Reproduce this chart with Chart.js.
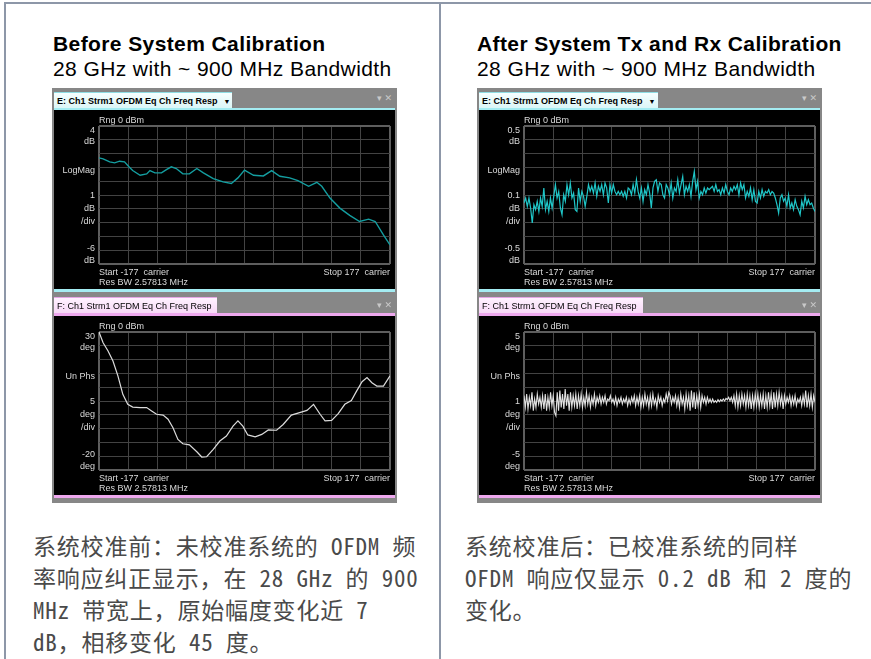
<!DOCTYPE html>
<html>
<head>
<meta charset="utf-8">
<script src="https://cdn.jsdelivr.net/npm/chart.js@4.4.0/dist/chart.umd.min.js"></script>
<style>
  body { margin: 0; width: 871px; height: 659px; background: #fff; position: relative; overflow: hidden; font-family: "Liberation Sans", Arial, sans-serif; }
  .rule { position: absolute; background: #8d97a8; }
  .title { position: absolute; font-size: 21px; letter-spacing: 0.4px; line-height: 25px; color: #000; white-space: nowrap; }
  .win { position: absolute; top: 88px; width: 345px; height: 415px; background: #878787; }
  .tab { position: absolute; left: 2px; height: 17px; line-height: 17px; font-size: 9px; color: #000; padding-left: 3px; box-sizing: border-box; white-space: nowrap; }
  .tab.e { top: 4px; background: linear-gradient(#f6ffff, #d9f5f6); border-top: 1px solid #8fdde4; font-weight: bold; }
  .tab.f { top: 209px; background: linear-gradient(#fff2ff, #f6d6f6); border-top: 1px solid #e6a6e6; }
  .tab .dd { font-size: 7px; margin-left: 6px; }
  .icons { position: absolute; right: 5px; font-size: 9px; color: #c9c9c9; font-family: "DejaVu Sans", sans-serif; }
  .band { position: absolute; left: 2px; width: 341px; }
  .plot { position: absolute; left: 2px; width: 341px; height: 179px; background: #000; }
  .plot canvas { position: absolute; left: 0; top: 0; }
  .lbl { position: absolute; color: #dadada; font-size: 9px; line-height: 10px; white-space: nowrap; }
  .note { position: absolute; top: 529px; font-family: "Noto Sans Mono CJK SC", "Noto Sans CJK SC", monospace; font-size: 23px; letter-spacing: 0.8px; line-height: 32px; color: #4a4a4a; white-space: nowrap; }
</style>
</head>
<body>

<div class="rule" style="left:4px;top:2px;width:867px;height:2px"></div>
<div class="rule" style="left:4px;top:2px;width:2px;height:657px"></div>
<div class="rule" style="left:439px;top:2px;width:2px;height:657px"></div>

<div class="title" style="left:53px;top:31px"><b>Before System Calibration</b><br>28 GHz with ~ 900 MHz Bandwidth</div>
<div class="title" style="left:477px;top:31px"><b>After System Tx and Rx Calibration</b><br>28 GHz with ~ 900 MHz Bandwidth</div>

<div class="win" style="left:52px">
  <div class="tab e" style="width:178px">E: Ch1 Strm1 OFDM Eq Ch Freq Resp<span class="dd">▼</span></div>
  <div class="icons" style="top:5px">▾ ✕</div>
  <div class="band" style="top:20px;height:2px;background:#a4ecf2"></div>
  <div class="plot" style="top:22px">
    <canvas id="magBefore" width="341" height="179"></canvas>
    <div class="lbl" style="left:45px;top:5px">Rng 0 dBm</div>
    <div class="lbl" style="left:45px;top:157px">Start -177&nbsp; carrier</div>
    <div class="lbl" style="right:5px;top:157px">Stop 177&nbsp; carrier</div>
    <div class="lbl" style="left:45px;top:167px">Res BW 2.57813 MHz</div>
  </div>
  <div class="band" style="top:201px;height:3px;background:#a4ecf2"></div>
  <div class="tab f" style="width:163px">F: Ch1 Strm1 OFDM Eq Ch Freq Resp</div>
  <div class="icons" style="top:212px">▾ ✕</div>
  <div class="band" style="top:225px;height:3px;background:#eea8ee"></div>
  <div class="plot" style="top:228px">
    <canvas id="phaseBefore" width="341" height="179"></canvas>
    <div class="lbl" style="left:45px;top:5px">Rng 0 dBm</div>
    <div class="lbl" style="left:45px;top:157px">Start -177&nbsp; carrier</div>
    <div class="lbl" style="right:5px;top:157px">Stop 177&nbsp; carrier</div>
    <div class="lbl" style="left:45px;top:167px">Res BW 2.57813 MHz</div>
  </div>
  <div class="band" style="top:407px;height:3px;background:#eea8ee"></div>
</div>

<div class="win" style="left:477px">
  <div class="tab e" style="width:179px">E: Ch1 Strm1 OFDM Eq Ch Freq Resp<span class="dd">▼</span></div>
  <div class="icons" style="top:5px">▾ ✕</div>
  <div class="band" style="top:20px;height:2px;background:#a4ecf2"></div>
  <div class="plot" style="top:22px">
    <canvas id="magAfter" width="341" height="179"></canvas>
    <div class="lbl" style="left:45px;top:5px">Rng 0 dBm</div>
    <div class="lbl" style="left:45px;top:157px">Start -177&nbsp; carrier</div>
    <div class="lbl" style="right:5px;top:157px">Stop 177&nbsp; carrier</div>
    <div class="lbl" style="left:45px;top:167px">Res BW 2.57813 MHz</div>
  </div>
  <div class="band" style="top:201px;height:3px;background:#a4ecf2"></div>
  <div class="tab f" style="width:164px">F: Ch1 Strm1 OFDM Eq Ch Freq Resp</div>
  <div class="icons" style="top:212px">▾ ✕</div>
  <div class="band" style="top:225px;height:3px;background:#eea8ee"></div>
  <div class="plot" style="top:228px">
    <canvas id="phaseAfter" width="341" height="179"></canvas>
    <div class="lbl" style="left:45px;top:5px">Rng 0 dBm</div>
    <div class="lbl" style="left:45px;top:157px">Start -177&nbsp; carrier</div>
    <div class="lbl" style="right:5px;top:157px">Stop 177&nbsp; carrier</div>
    <div class="lbl" style="left:45px;top:167px">Res BW 2.57813 MHz</div>
  </div>
  <div class="band" style="top:407px;height:3px;background:#eea8ee"></div>
</div>

<div class="note" style="left:33px">系统校准前：未校准系统的 OFDM 频<br>率响应纠正显示，在 28 GHz 的 900<br>MHz 带宽上，原始幅度变化近 7<br>dB，相移变化 45 度。</div>
<div class="note" style="left:465px">系统校准后：已校准系统的同样<br>OFDM 响应仅显示 0.2 dB 和 2 度的<br>变化。</div>

<script>
// carrier axis: -177 .. 177
const START_CARRIER = -177;
const STOP_CARRIER = 177;

// left-hand axis annotations, top to bottom
const MAG_BEFORE_LABELS = ['4', 'dB', 'LogMag', '1', 'dB', '/div', '-6', 'dB'];
const PHASE_BEFORE_LABELS = ['30', 'deg', 'Un Phs', '5', 'deg', '/div', '-20', 'deg'];
const MAG_AFTER_LABELS = ['0.5', 'dB', 'LogMag', '0.1', 'dB', '/div', '-0.5', 'dB'];
const PHASE_AFTER_LABELS = ['5', 'deg', 'Un Phs', '1', 'deg', '/div', '-5', 'deg'];

// Before calibration: magnitude (dB), 4 .. -6 dB
const MAG_BEFORE_X = [-177, -172, -164, -158, -152, -146, -140, -136, -127, -119, -115, -109, -101, -95, -89, -83, -75, -67, -58, -50,
  -38, -26, -16, -8, 0, 11, 23, 33, 43, 55, 65, 78, 88, 94, 104, 116, 128, 140, 151, 159, 169, 177];
const MAG_BEFORE = [1.69, 1.62, 1.40, 1.33, 1.45, 1.40, 1.01, 0.77, 0.43, 0.53, 0.77, 0.60, 0.60, 0.84, 1.04, 0.92, 0.53, 0.53, 0.92, 0.60,
  0.19, -0.05, -0.17, 0.24, 0.80, 0.43, 0.38, 0.77, 0.36, 0.24, 0.04, -0.37, -0.08, -0.37, -1.22, -1.95, -2.48, -2.92, -2.75, -2.92, -3.89, -4.62];

// Before calibration: unwrapped phase (deg), 30 .. -20 deg
const PHASE_BEFORE_X = [-177, -172, -166, -160, -154, -148, -142, -136, -127, -119, -113, -107, -99, -93, -87, -81, -75, -67, -58, -52,
  -46, -38, -30, -22, -14, -8, -2, 4, 13, 21, 29, 39, 47, 57, 67, 76, 84, 92, 98, 106, 114, 122, 130, 136, 143, 149, 155, 161, 169, 177];
const PHASE_BEFORE = [30, 26.1, 23.1, 19.5, 14.1, 7.4, 3.8, 2.8, 2.6, 2.6, 1.4, 0.2, -0.1, -1.6, -4.7, -8.9, -10.5, -10.9, -13.4, -15.3,
  -15.2, -12.5, -9.5, -7.7, -4.1, -2.2, -4.1, -7.3, -8.0, -7.1, -5.5, -5.6, -3.5, -0.1, 0.8, 1.6, 3.8, 0.2, -2.2, -2.0,
  0.4, 3.8, 5.2, 8.4, 12.0, 13.5, 11.6, 10.4, 10.4, 14.1];

// After calibration: magnitude (dB), 0.5 .. -0.5 dB, sampled evenly across the carriers
const MAG_AFTER = [
  -0.058, -0.022, -0.082, -0.022, -0.094, -0.203, -0.070, -0.106, -0.046, -0.119,
  -0.022, -0.082, 0.051, -0.106, -0.046, -0.119, -0.022, -0.094, -0.010, 0.075,
  -0.022, 0.026, -0.094, -0.143, 0.002, -0.046, 0.075, 0.002, 0.087, -0.022,
  0.014, -0.106, -0.119, 0.051, -0.046, 0.026, -0.010, -0.082, -0.010, 0.075,
  0.026, 0.063, 0.014, 0.087, -0.010, 0.063, 0.026, 0.075, 0.002, 0.087,
  0.051, -0.058, 0.075, 0.014, 0.075, 0.026, 0.002, 0.026, 0.002, 0.026,
  -0.010, 0.026, -0.022, 0.051, 0.039, 0.002, 0.075, 0.014, 0.111, 0.026,
  -0.022, 0.051, -0.046, 0.039, 0.002, 0.075, 0.014, -0.094, 0.051, 0.099,
  0.111, 0.026, 0.087, 0.075, 0.002, -0.022, 0.075,
  0.051, 0.002, 0.087, -0.022, 0.051, 0.026, 0.111, 0.014, 0.075, 0.135,
  0.002, 0.063, 0.026, 0.075, -0.010, 0.099, 0.171, 0.039, 0.099, -0.022,
  0.026, 0.002, 0.051, 0.014, 0.051, 0.039, 0.051, 0.063, 0.026, 0.075,
  0.026, 0.039, 0.002, 0.051, 0.014, 0.075, 0.026, 0.002, 0.051, 0.026,
  0.063, 0.039, 0.075, 0.002, 0.087, 0.039, 0.075, -0.022, 0.026, -0.010,
  0.051, -0.034, 0.039, -0.046, -0.058, 0.026, -0.022, 0.039, -0.010, 0.026,
  0.014, 0.039, 0.002, 0.026, 0.014, -0.022, -0.070, -0.131, -0.022, 0.002,
  -0.046, -0.022, -0.082, 0.002, -0.094, -0.058, -0.106, -0.034, -0.082, -0.106,
  -0.143, -0.046, -0.094, -0.010, -0.070, -0.034, -0.070, -0.058, -0.094, -0.119
];

// After calibration: unwrapped phase (deg), 5 .. -5 deg, sampled evenly across the carriers
const PHASE_AFTER = [
  0.39, -0.46, 0.51, -0.58, 0.27, -0.34, 0.63, -0.70, 0.15, -0.46,
  0.51, -0.22, 0.27, -0.46, 0.39, -0.58, 0.51, -0.70, 0.27, -0.46,
  0.63, -0.34, 0.39, -0.83, -1.07, 0.63, -0.70, 0.75, -0.46, 0.51,
  -0.58, 0.87, -0.34, 0.51, -0.70, 0.63, -0.46, 0.39, -0.34, 0.51,
  -0.58, 0.39, -0.34, 0.51, -0.46, 0.27, -0.34, 0.63, -0.22, 0.39,
  -0.46, 0.27, -0.22, 0.51, -0.34, 0.27, -0.10, 0.39, -0.22, 0.27,
  -0.10, 0.39, -0.22, 0.15, 0.02, 0.39, -0.10, 0.15, -0.22, 0.27,
  -0.34, 0.15, -0.10, 0.27, -0.22, 0.15, -0.10, 0.27, -0.34, 0.15,
  -0.22, 0.27, -0.10, 0.39, -0.34, 0.27, -0.22, 0.39, -0.46, 0.27,
  -0.34, 0.51, -0.22, 0.27, -0.46, 0.39, -0.34, 0.51, -0.22, 0.15,
  -0.46, 0.39, -0.10, 0.27, -0.34, 0.15, -0.10, 0.51, 0.02, 0.63,
  0.39, -0.22, 0.27, -0.10, 0.39, -0.34, 0.27, -0.46, 0.51, -0.22,
  0.27, -0.58, 0.51, -0.34, 0.39, -0.70, 0.75, -0.46, 0.63, -0.58,
  0.39, -0.34, 0.51, -0.46, 0.39, -0.10, 0.27, -0.22, 0.27, -0.10,
  0.15, -0.10, 0.15, -0.10, 0.02, -0.10, 0.10, -0.05, 0.10, 0.00,
  0.15, 0.00, 0.19, 0.10, 0.27, 0.02, 0.27, -0.10, 0.39, -0.34,
  0.51, -0.46, 0.39, -0.34, 0.51, -0.22, 0.39, -0.46, 0.51, -0.34,
  0.39, -0.58, 0.39, -0.46, 0.51, -0.34, 0.51, -0.46, 0.39, -0.34,
  0.51, -0.58, 0.39, -0.46, 0.63, -0.34, 0.51, -0.58, 0.63, -0.46,
  0.51, -0.34, 0.63, -0.22, 0.39, -0.58, 0.39, -0.22, 0.27, -0.10,
  0.39, -0.34, 0.27, -0.22, 0.39, -0.34, 0.15, -0.10, 0.27, -0.34,
  0.39, -0.22, 0.75, -0.46, 0.39, -0.34, 0.51, -0.46, 0.39, -0.10
];

// carriers for evenly sampled traces
function carriers(n) {
  return Array.from({ length: n }, (_, i) => START_CARRIER + (STOP_CARRIER - START_CARRIER) * i / (n - 1));
}

// where the left annotations sit, as a fraction of the graticule height
const LABEL_ROWS = [0.035, 0.115, 0.32, 0.507, 0.6, 0.695, 0.888, 0.975];

const tenDiv = s => {
  s.ticks = Array.from({ length: 11 }, (_, i) => ({ value: s.min + (s.max - s.min) * i / 10 }));
};

const gridOpts = {
  color: c => (c.index === 0 || c.index === 10) ? '#5e5e5e' : '#434343',
  lineWidth: c => (c.index === 0 || c.index === 10) ? 2 : 1,
  drawTicks: false,
};

function buildChart(id, xs, ys, yMin, yMax, color, width, labels) {
  const points = ys.map((y, i) => ({ x: xs[i], y }));
  return new Chart(document.getElementById(id), {
    type: 'line',
    data: {
      datasets: [{
        data: points,
        borderColor: color,
        borderWidth: width,
        pointRadius: 0,
        tension: 0,
        fill: false,
      }],
    },
    options: {
      responsive: false,
      animation: false,
      events: [],
      layout: { padding: { left: 0, right: 5, top: 16, bottom: 25 } },
      plugins: { legend: { display: false }, tooltip: { enabled: false } },
      scales: {
        x: {
          type: 'linear', min: START_CARRIER, max: STOP_CARRIER,
          afterBuildTicks: tenDiv,
          ticks: { display: false },
          grid: gridOpts,
          border: { display: false },
          afterFit: s => { s.height = 0; },
        },
        y: {
          min: yMin, max: yMax,
          afterBuildTicks: tenDiv,
          ticks: { display: false },
          grid: gridOpts,
          border: { display: false },
          afterFit: s => { s.width = 0; },
        },
        yl: {
          position: 'left', min: 0, max: 1, reverse: true,
          afterBuildTicks: s => { s.ticks = LABEL_ROWS.map(v => ({ value: v })); },
          ticks: {
            autoSkip: false, maxRotation: 0, padding: 4,
            color: '#dadada',
            font: { family: "'Liberation Sans'", size: 9 },
            callback: (v, i) => labels[i],
          },
          grid: { display: false, drawTicks: false },
          border: { display: false },
          afterFit: s => { s.width = 45; },
        },
      },
    },
  });
}

buildChart('magBefore', MAG_BEFORE_X, MAG_BEFORE, -6, 4, '#149ea0', 1.4, MAG_BEFORE_LABELS);
buildChart('phaseBefore', PHASE_BEFORE_X, PHASE_BEFORE, -20, 30, '#dcdcdc', 1.2, PHASE_BEFORE_LABELS);
buildChart('magAfter', carriers(MAG_AFTER.length), MAG_AFTER, -0.5, 0.5, '#1fc6c8', 1.2, MAG_AFTER_LABELS);
buildChart('phaseAfter', carriers(PHASE_AFTER.length), PHASE_AFTER, -5, 5, '#e2e2e2', 1.1, PHASE_AFTER_LABELS);
</script>
</body>
</html>
